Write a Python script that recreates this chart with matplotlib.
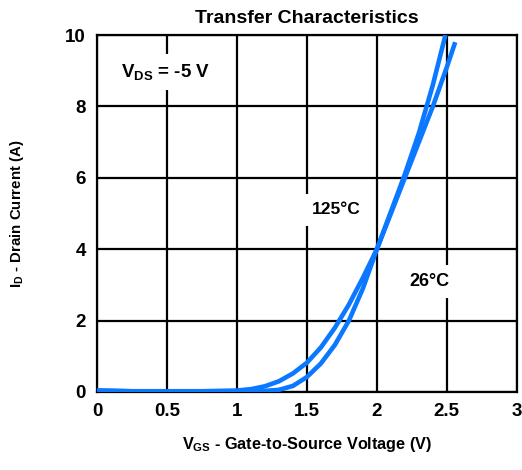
import matplotlib
matplotlib.use('Agg')
import matplotlib.pyplot as plt

plt.rcParams['font.family'] = 'Liberation Sans'
plt.rcParams['font.weight'] = 'bold'
plt.rcParams['mathtext.fontset'] = 'custom'
plt.rcParams['mathtext.rm'] = 'Liberation Sans:bold'
plt.rcParams['mathtext.it'] = 'Liberation Sans:bold'
plt.rcParams['mathtext.bf'] = 'Liberation Sans:bold'

# data
vgs_26 = [0, 0.25, 0.5, 0.75, 1.0, 1.1, 1.2, 1.3, 1.4, 1.5, 1.6, 1.7, 1.8, 1.9, 2.0, 2.1, 2.2, 2.3, 2.4, 2.49]
id_26 = [0.04, 0.02, 0.02, 0.02, 0.02, 0.02, 0.03, 0.06, 0.17, 0.42, 0.8, 1.32, 2.0, 2.9, 4.0, 5.05, 6.1, 7.25, 8.6, 10.0]

vgs_125 = [0, 0.25, 0.5, 0.75, 1.0, 1.1, 1.2, 1.3, 1.4, 1.5, 1.6, 1.7, 1.8, 1.9, 2.0, 2.1, 2.2, 2.3, 2.4, 2.5, 2.56]
id_125 = [0.04, 0.02, 0.02, 0.02, 0.04, 0.08, 0.16, 0.3, 0.52, 0.82, 1.25, 1.8, 2.45, 3.2, 4.0, 5.0, 6.0, 7.0, 8.0, 9.1, 9.8]

xticks = [0, 0.5, 1, 1.5, 2, 2.5, 3]
xtick_labels = ['0', '0.5', '1', '1.5', '2', '2.5', '3']
yticks = [0, 2, 4, 6, 8, 10]

fig = plt.figure(figsize=(5.22, 4.70), dpi=100)
ax = fig.add_axes([0.186, 0.166, 0.804, 0.7595])

ax.plot(vgs_26, id_26, color='#0a78ff', lw=3.3, solid_capstyle='butt', zorder=3)
ax.plot(vgs_125, id_125, color='#0a78ff', lw=3.3, solid_capstyle='butt', zorder=3)

ax.set_xlim(0, 3)
ax.set_ylim(0, 10)
ax.set_xticks(xticks)
ax.set_xticklabels(xtick_labels)
ax.set_yticks(yticks)
ax.tick_params(length=0, labelsize=13.5, pad=8)
for lab in ax.get_xticklabels() + ax.get_yticklabels():
    lab.set_fontweight('bold')
ax.grid(True, color='black', lw=1.6, zorder=1)
for s in ax.spines.values():
    s.set_linewidth(1.6)

ax.set_title('Transfer Characteristics', fontsize=14, fontweight='bold', pad=9)
ax.set_xlabel('V$_\\mathrm{GS}$ - Gate-to-Source Voltage (V)', fontsize=11.7, fontweight='bold', labelpad=11)
ax.set_ylabel('I$_\\mathrm{D}$ - Drain Current (A)', fontsize=10.8, fontweight='bold', labelpad=28)

box = dict(facecolor='white', edgecolor='none', pad=6)
ax.text(0.486, 8.96, 'V$_\\mathrm{DS}$ = -5 V', fontsize=13.5, fontweight='bold',
        ha='center', va='center', bbox=box, zorder=4)
ax.text(1.71, 5.1, '125°C', fontsize=12.5, fontweight='bold',
        ha='center', va='center', bbox=box, zorder=4)
ax.text(2.375, 3.1, '26°C', fontsize=13, fontweight='bold',
        ha='center', va='center', bbox=box, zorder=4)

fig.savefig('out.png', dpi=100)
